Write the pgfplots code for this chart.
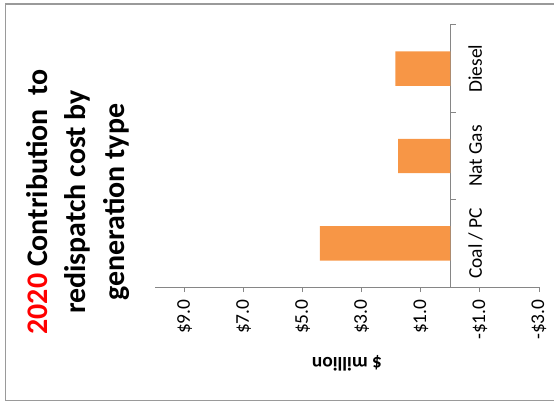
\documentclass[border=0pt]{standalone}
\usepackage{fontspec}
\setmainfont{Carlito}
\usepackage{pgfplots}
\pgfplotsset{compat=1.18}
\definecolor{barorange}{HTML}{F79646}
\definecolor{axgray}{HTML}{868686}
\definecolor{bordergray}{HTML}{9A9A9A}
\begin{document}
\begin{tikzpicture}[x=1bp,y=1bp]
\useasboundingbox (0,0) rectangle (554,403);
\draw[bordergray, line width=1.5bp] (554,399) -- (5.5,399) -- (5.5,2.5) -- (554,2.5);
\begin{axis}[
  at={(155bp,116bp)}, anchor=south west, scale only axis,
  width=384bp, height=262bp,
  xbar, bar width=34.4bp, x dir=reverse,
  xmin=-3, xmax=10, ymin=-0.5, ymax=2.5,
  axis x line=bottom, axis y line=center,
  axis line style={axgray, line width=1bp, -},
  xtick={9,7,5,3,1,-1,-3},
  xticklabels={\$9.0,\$7.0,\$5.0,\$3.0,\$1.0,-\$1.0,-\$3.0},
  tick style={axgray, line width=1bp},
  tick align=outside, major tick length=5bp,
  x tick label style={yshift=-4bp, rotate=90, anchor=east, font=\fontsize{19.5}{20}\selectfont},
  ytick=\empty,
  xlabel={\textbf{\$ million}},
  xlabel style={at={(axis description cs:0.5,-0.29)}, anchor=center, rotate=180, font=\fontsize{19.5}{20}\selectfont},
  clip=false,
]
\addplot[fill=barorange, draw=none] coordinates {(4.42,0) (1.77,1) (1.86,2)};
\draw[axgray, line width=1bp] (axis cs:0,0.5) -- ([xshift=6bp]axis cs:0,0.5);
\draw[axgray, line width=1bp] (axis cs:0,1.5) -- ([xshift=6bp]axis cs:0,1.5);
\draw[axgray, line width=1bp] (axis cs:0,2.5) -- ([xshift=6bp]axis cs:0,2.5);
\node[xshift=31.5bp, rotate=90, anchor=base, font=\fontsize{19.5}{20}\selectfont] at (axis cs:0,0) {Coal / PC};
\node[xshift=31.5bp, rotate=90, anchor=base, font=\fontsize{19.5}{20}\selectfont] at (axis cs:0,1) {Nat Gas};
\node[xshift=31.5bp, rotate=90, anchor=base, font=\fontsize{19.5}{20}\selectfont] at (axis cs:0,2) {Diesel};
\end{axis}
\node[rotate=90, align=center, font=\bfseries\fontsize{30}{38.5}\selectfont] at (78,201)
  {\textcolor{red}{2020} Contribution\ \ to\\redispatch cost by\\generation type};
\end{tikzpicture}
\end{document}
